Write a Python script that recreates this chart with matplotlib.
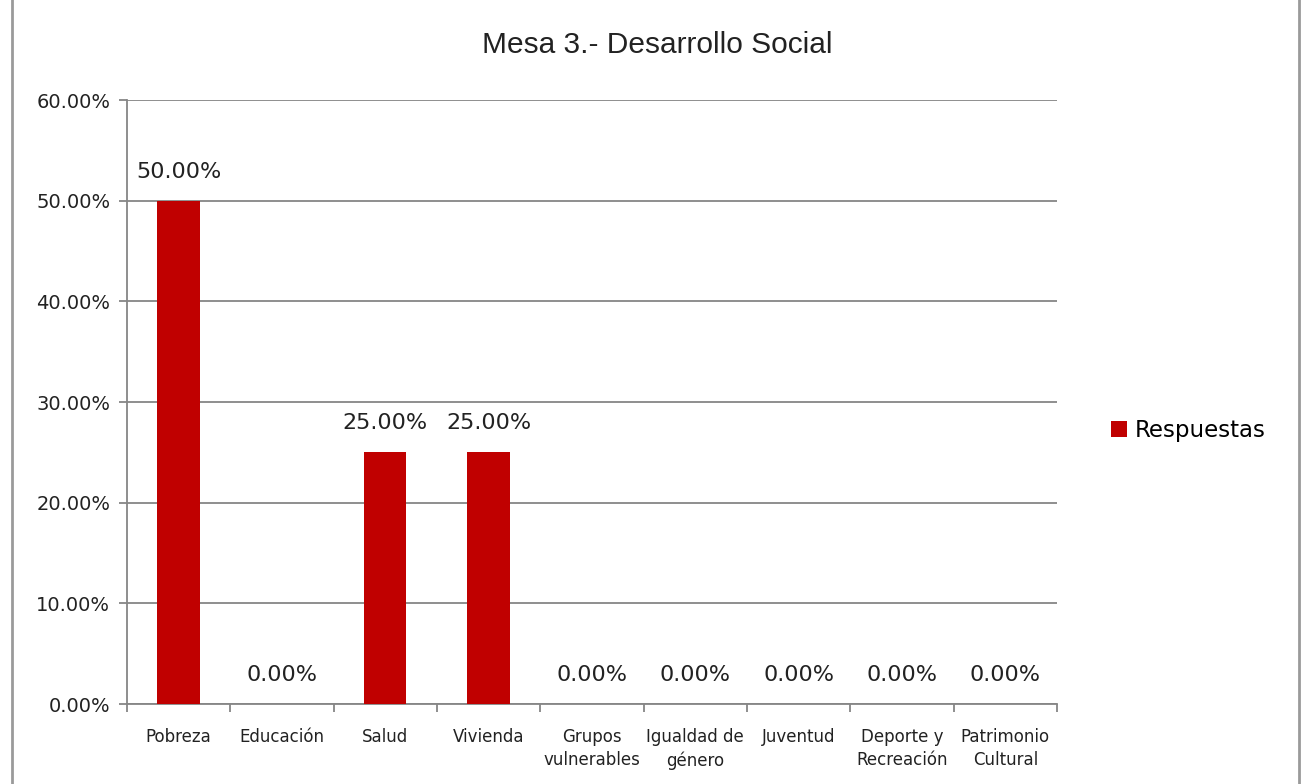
import matplotlib.pyplot as plt
import numpy as np
from matplotlib.lines import Line2D

categorias = ["Pobreza", "Educación", "Salud", "Vivienda", "Grupos\nvulnerables",
              "Igualdad de\ngénero", "Juventud", "Deporte y\nRecreación", "Patrimonio\nCultural"]
respuestas = [50.0, 0.0, 25.0, 25.0, 0.0, 0.0, 0.0, 0.0, 0.0]
y_ticks = [0, 10, 20, 30, 40, 50, 60]

rojo = '#C00000'
gris = '#868686'

fig = plt.figure(figsize=(13.01, 7.84), dpi=100)
ax = fig.add_axes([0.0976, 0.102, 0.7148, 0.7704])

x = np.arange(len(categorias))
bars = ax.bar(x, respuestas, width=0.41, color=rojo, label='Respuestas', zorder=3)

for xi, v in zip(x, respuestas):
    ax.text(xi, v + 1.9, f"{v:.2f}%", ha='center', va='bottom',
            fontsize=16, color='#222222')

ax.set_xlim(-0.5, len(categorias) - 0.5)
ax.set_ylim(0, 60)
ax.set_yticks(y_ticks)
ax.set_yticklabels([f"{t:.2f}%" for t in y_ticks], fontsize=14, color='#222222')
ax.set_xticks(x)
ax.set_xticklabels(categorias, fontsize=12, color='#222222', linespacing=1.4)
ax.set_xticks(np.arange(-0.5, len(categorias)), minor=True)
ax.tick_params(axis='x', which='major', length=0, pad=17)
ax.tick_params(axis='x', which='minor', length=6, color=gris, width=1.3)
ax.tick_params(axis='y', length=6, color=gris, width=1.3, pad=6)

ax.grid(axis='y', color=gris, linewidth=1.3, zorder=0)
ax.set_axisbelow(True)
for s in ['top', 'right']:
    ax.spines[s].set_visible(False)
for s in ['left', 'bottom']:
    ax.spines[s].set_color(gris)
    ax.spines[s].set_linewidth(1.3)

fig.text(0.505, 0.942, "Mesa 3.- Desarrollo Social", ha='center', va='center',
         fontsize=21.5, family='Liberation Sans', color='#222222')

leg = fig.legend(handles=[bars], labels=['Respuestas'], loc='center left',
                 bbox_to_anchor=(0.838, 0.451), frameon=False, fontsize=16.5,
                 handlelength=0.7, handleheight=0.7, handletextpad=0.35)

# marco del gráfico
fig.add_artist(Line2D([0.0092, 0.0092], [0, 1], color='#9a9a9a', linewidth=2,
                      transform=fig.transFigure))
fig.add_artist(Line2D([0.9985, 0.9985], [0, 1], color='#9a9a9a', linewidth=2,
                      transform=fig.transFigure))

fig.savefig('out.png', dpi=100)
